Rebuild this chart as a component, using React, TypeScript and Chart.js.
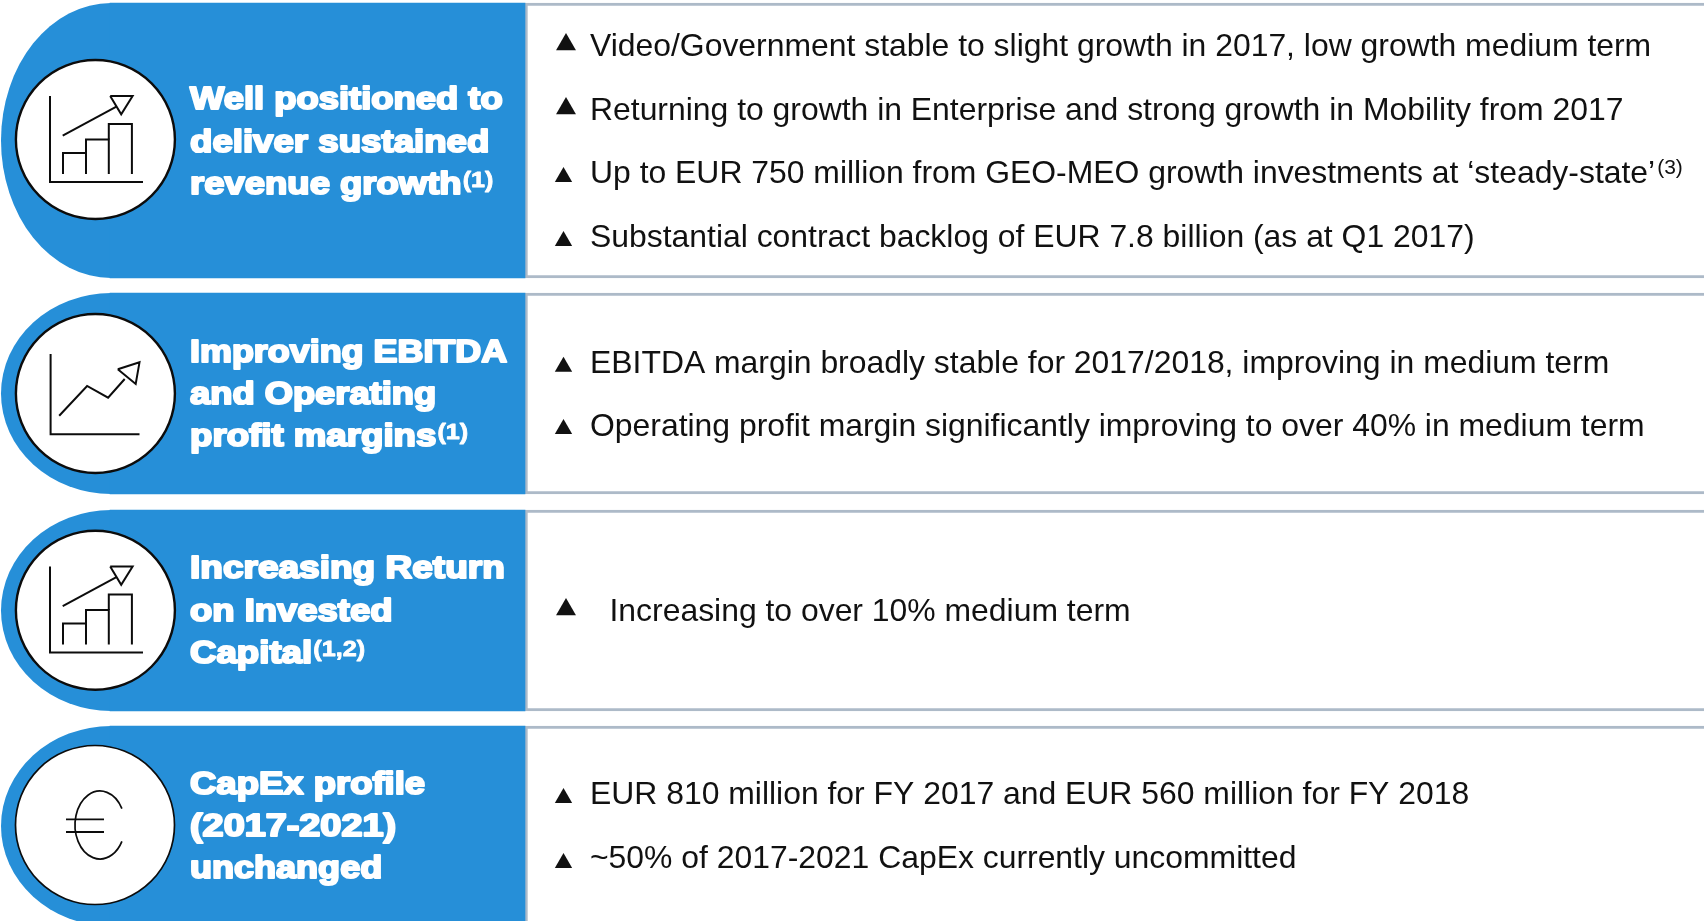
import React, { useEffect, useRef } from "react";
import { Chart, registerables } from "chart.js";

Chart.register(...registerables);

const WIDTH = 1704;
const HEIGHT = 921;

const rowTops = [3, 293, 510, 726];
const rowBottoms = [278, 494, 711, 926];
const circleX = [95.4, 95.4, 95.4, 95];
const circleY = [139.5, 393.5, 610.3, 825];

const headings = [
  [["Well positioned to"], ["deliver sustained"], ["revenue growth", "(1)"]],
  [["Improving EBITDA"], ["and Operating"], ["profit margins", "(1)"]],
  [["Increasing Return"], ["on Invested"], ["Capital", "(1,2)"]],
  [["CapEx profile"], ["(2017-2021)"], ["unchanged"]],
];
const headingBaselines = [
  [109, 152, 194],
  [362, 404, 446],
  [578, 621, 663],
  [794, 836, 878],
];
const headingStretch = [
  [1.137, 1.145, 1.14],
  [1.122, 1.135, 1.145],
  [1.157, 1.139, 1.145],
  [1.14, 1.182, 1.126],
];

const bulletTexts = [
  "Video/Government stable to slight growth in 2017, low growth medium term",
  "Returning to growth in Enterprise and strong growth in Mobility from 2017",
  "Up to EUR 750 million from GEO-MEO growth investments at \u2018steady-state\u2019",
  "Substantial contract backlog of EUR 7.8 billion (as at Q1 2017)",
  "EBITDA margin broadly stable for 2017/2018, improving in medium term",
  "Operating profit margin significantly improving to over 40% in medium term",
  "Increasing to over 10% medium term",
  "EUR 810 million for FY 2017 and EUR 560 million for FY 2018",
  "~50% of 2017-2021 CapEx currently uncommitted",
];
const bulletTextX = [590, 590, 590, 590, 590, 590, 609.5, 590, 590];
const bulletBaselines = [56, 120, 183, 247, 373, 436, 620.5, 804, 868];
const bulletMarkX = [566, 566, 563.5, 563.5, 563.5, 563.5, 566, 563.5, 563.5];
const bulletMarkY = [44.5, 108.5, 177, 241, 366.7, 429, 609.5, 798, 863];
const bulletMarkSize = [11.5, 11.5, 10, 10, 10, 10, 11.5, 10, 10];

const risingBarsIcon = [
  [[50, 96], [50, 182], [143, 182]],
  [[63, 174], [63, 153], [86, 153], [86, 174]],
  [[86, 153], [86, 139.5], [108.8, 139.5], [108.8, 174]],
  [[108.8, 139.5], [108.8, 124], [131.9, 124], [131.9, 174]],
  [[62.7, 135.7], [116.4, 106.7]],
  [[110.2, 96], [132.6, 96], [121.2, 114.3], [110.2, 96]],
];
const risingBarsOffsets = [0, 470.5];
const lineIcon = [
  [[50.6, 354], [50.6, 434.3], [139.5, 434.3]],
  [[59.2, 415.7], [87.1, 386], [108.1, 397.7], [124.7, 379]],
  [[117.8, 369.3], [139.5, 362.3], [135.7, 384], [117.8, 369.3]],
];
const euroBars = [
  [[66, 819.3], [104, 819.3]],
  [[66, 832], [104, 832]],
];

const BLUE = "#268fd8";
const GREY = "#adbac8";

const toPoints = (path: number[][], dy = 0) => path.map(([x, y]) => ({ x, y: y + dy }));

const iconDataset = (path: number[][], dy = 0, width = 2) => ({
  type: "scatter" as const,
  data: toPoints(path, dy),
  showLine: true,
  borderColor: "#0c0c0c",
  borderWidth: width,
  pointRadius: 0,
  fill: false,
  order: 0,
});

const HEAD_X = 190;

const textPlugin = {
  id: "slideText",
  afterDatasetsDraw(chart: any) {
    const { ctx, scales } = chart;
    const px = (v: number) => scales.x.getPixelForValue(v);
    const py = (v: number) => scales.y.getPixelForValue(v);
    ctx.save();
    ctx.textBaseline = "alphabetic";
    ctx.textAlign = "left";

    // euro arc
    ctx.strokeStyle = "#0c0c0c";
    ctx.lineWidth = 1.7;
    ctx.beginPath();
    ctx.ellipse(px(100), py(825), 25, 34, 0, -Math.PI * 0.16, Math.PI * 0.16, true);
    ctx.stroke();

    // headings
    ctx.fillStyle = "#ffffff";
    ctx.strokeStyle = "#ffffff";
    ctx.lineJoin = "round";
    headings.forEach((row, r) => {
      row.forEach((parts, l) => {
        ctx.save();
        ctx.translate(px(HEAD_X), py(headingBaselines[r][l]));
        ctx.scale(headingStretch[r][l], 1);
        ctx.font = 'bold 32px "Liberation Sans"';
        ctx.lineWidth = 2.1;
        ctx.strokeText(parts[0], 0, 0);
        ctx.fillText(parts[0], 0, 0);
        if (parts[1]) {
          const w = ctx.measureText(parts[0]).width;
          ctx.font = 'bold 22px "Liberation Sans"';
          ctx.lineWidth = 0.8;
          ctx.strokeText(parts[1], w + 1, -7.5);
          ctx.fillText(parts[1], w + 1, -7.5);
        }
        ctx.restore();
      });
    });

    // bullets
    ctx.fillStyle = "#111111";
    bulletTexts.forEach((t, i) => {
      ctx.font = '31.9px "Liberation Sans"';
      ctx.fillText(t, px(bulletTextX[i]), py(bulletBaselines[i]));
      if (i === 2) {
        const w = ctx.measureText(t).width;
        ctx.font = '21px "Liberation Sans"';
        ctx.fillText("(3)", px(bulletTextX[i]) + w + 2, py(bulletBaselines[i]) - 9);
      }
    });
    ctx.restore();
  },
};

export default function App() {
  const ref = useRef<HTMLCanvasElement>(null);

  useEffect(() => {
    document.body.style.margin = "0";
    document.body.style.background = "#ffffff";
    const rowIdx = rowTops.map((_, i) => i);
    const datasets: any[] = [];

    // blue headers and right-hand framed panels
    rowIdx.forEach((i) => {
      const thickness = rowBottoms[i] - rowTops[i];
      const center = (rowTops[i] + rowBottoms[i]) / 2;
      datasets.push({
        type: "bar",
        indexAxis: "y",
        data: [{ x: [525, WIDTH + 10], y: center }],
        barThickness: thickness,
        grouped: false,
        backgroundColor: "#ffffff",
        borderColor: GREY,
        borderWidth: { top: 3, bottom: 3, left: 3, right: 0 },
        borderSkipped: false,
        order: 5,
      });
      datasets.push({
        type: "bar",
        indexAxis: "y",
        data: [{ x: [110, 525], y: center }],
        barThickness: thickness,
        grouped: false,
        backgroundColor: BLUE,
        borderWidth: 0,
        order: 4,
      });
    });

    // white icon discs
    datasets.push({
      type: "scatter",
      data: circleX.map((x, i) => ({ x, y: circleY[i] })),
      pointRadius: 79.5,
      pointHoverRadius: 79.5,
      pointBackgroundColor: "#ffffff",
      pointBorderColor: "#0c0c0c",
      pointBorderWidth: [2.4, 2.4, 2.4, 1.7],
      showLine: false,
      order: 2,
    });

    // triangle bullets
    datasets.push({
      type: "scatter",
      data: bulletMarkX.map((x, i) => ({ x, y: bulletMarkY[i] })),
      pointStyle: "triangle",
      pointRadius: bulletMarkSize,
      pointBackgroundColor: "#111111",
      pointBorderWidth: 0,
      showLine: false,
      order: 1,
    });

    risingBarsOffsets.forEach((dy) =>
      risingBarsIcon.forEach((p) => datasets.push(iconDataset(p, dy)))
    );
    lineIcon.forEach((p) => datasets.push(iconDataset(p)));
    euroBars.forEach((p) => datasets.push(iconDataset(p, 0, 1.8)));

    const ellipseCaps = {
      id: "ellipseCaps",
      beforeDatasetsDraw(chart: any) {
        const { ctx, scales } = chart;
        ctx.save();
        ctx.fillStyle = BLUE;
        rowIdx.forEach((i) => {
          const cy = scales.y.getPixelForValue((rowTops[i] + rowBottoms[i]) / 2);
          const ry = (rowBottoms[i] - rowTops[i]) / 2;
          ctx.beginPath();
          ctx.ellipse(scales.x.getPixelForValue(111), cy, 110, ry, 0, Math.PI / 2, (Math.PI * 3) / 2);
          ctx.fill();
        });
        ctx.restore();
      },
    };

    const chart = new Chart(ref.current!, {
      type: "bar",
      data: { datasets },
      plugins: [ellipseCaps, textPlugin],
      options: {
        animation: false,
        responsive: false,
        layout: { padding: 0, autoPadding: false },
        plugins: { legend: { display: false }, tooltip: { enabled: false } },
        scales: {
          x: { type: "linear", min: 0, max: WIDTH, display: false, offset: false },
          y: { type: "linear", min: 0, max: HEIGHT, reverse: true, display: false, offset: false },
        },
      },
    } as any);
    return () => chart.destroy();
  }, []);

  return <canvas ref={ref} width={WIDTH} height={HEIGHT} style={{ display: "block" }} />;
}
